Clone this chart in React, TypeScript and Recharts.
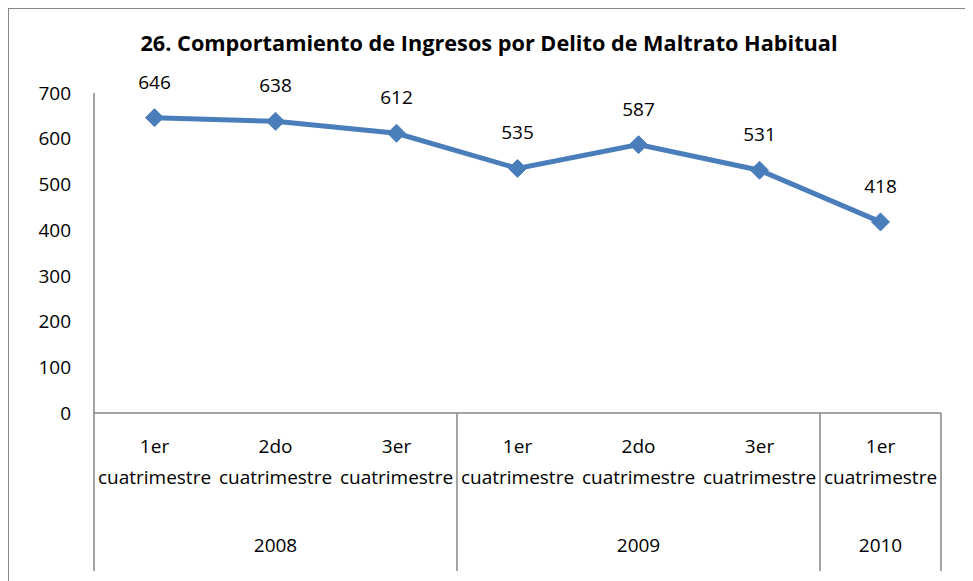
import { LineChart, Line, XAxis, YAxis, LabelList } from "recharts";

const categories = [
    "1er cuatrimestre",
    "2do cuatrimestre",
    "3er cuatrimestre",
    "1er cuatrimestre",
    "2do cuatrimestre",
    "3er cuatrimestre",
    "1er cuatrimestre",
];
const ingresos = [646, 638, 612, 535, 587, 531, 418];
const years = ["2008", "2009", "2010"];
const yearSpans = [3, 3, 1];
const yTicks = [0, 100, 200, 300, 400, 500, 600, 700];

const data = categories.map((c, i) => ({ name: c, key: `${i}`, value: ingresos[i] }));

const CHART_W = 956;
const CHART_H = 580;
const PLOT_LEFT = 85;
const PLOT_RIGHT = 932;
const BAND = (PLOT_RIGHT - PLOT_LEFT) / categories.length;
const FONT = "'Open Sans', sans-serif";
const LINE_COLOR = "#4A7EBB";
const AXIS_COLOR = "#868686";

// start index of each year group
const groupStarts: number[] = [];
yearSpans.reduce((acc, n) => {
    groupStarts.push(acc);
    return acc + n;
}, 0);

function CategoryTick(props: any) {
    const { x, y, payload } = props;
    const i = payload.index;
    const [first, second] = categories[i].split(" ");
    const g = groupStarts.indexOf(i);
    const bottom = 562;
    return (
        <g>
            <text x={x} y={y + 40} textAnchor="middle" fontSize={19} fontFamily={FONT} fill="#000">
                {first}
            </text>
            <text x={x} y={y + 71} textAnchor="middle" fontSize={19} fontFamily={FONT} fill="#000">
                {second}
            </text>
            {g >= 0 && (
                <>
                    <line x1={x - BAND / 2} x2={x - BAND / 2} y1={y} y2={bottom} stroke={AXIS_COLOR} strokeWidth={1.5} />
                    <text
                        x={x - BAND / 2 + (yearSpans[g] * BAND) / 2}
                        y={y + 139}
                        textAnchor="middle"
                        fontSize={19}
                        fontFamily={FONT}
                        fill="#000"
                    >
                        {years[g]}
                    </text>
                </>
            )}
            {i === categories.length - 1 && (
                <line x1={x + BAND / 2} x2={x + BAND / 2} y1={y} y2={bottom} stroke={AXIS_COLOR} strokeWidth={1.5} />
            )}
        </g>
    );
}

function Diamond(props: any) {
    const { cx, cy } = props;
    if (cx == null || cy == null) return null;
    const r = 9;
    return (
        <polygon
            points={`${cx},${cy - r} ${cx + r},${cy} ${cx},${cy + r} ${cx - r},${cy}`}
            fill={LINE_COLOR}
            stroke={LINE_COLOR}
        />
    );
}

export default function App() {
    return (
        <div
            style={{
                position: "relative",
                width: CHART_W,
                height: CHART_H,
                border: `1px solid ${AXIS_COLOR}`,
                background: "#fff",
            }}
        >
            <div
                style={{
                    position: "absolute",
                    top: 19,
                    left: 2,
                    width: CHART_W,
                    textAlign: "center",
                    fontFamily: FONT,
                    fontWeight: 700,
                    fontSize: 21.7,
                    color: "#000",
                }}
            >
                26. Comportamiento de Ingresos por Delito de Maltrato Habitual
            </div>
            <LineChart
                width={CHART_W}
                height={CHART_H}
                data={data}
                margin={{ top: 84, right: CHART_W - PLOT_RIGHT, left: 0, bottom: 0 }}
            >
                <XAxis
                    dataKey="key"
                    height={176}
                    interval={0}
                    padding={{ left: BAND / 2, right: BAND / 2 }}
                    axisLine={{ stroke: AXIS_COLOR, strokeWidth: 1.5 }}
                    tickLine={false}
                    tickSize={0}
                    tickMargin={0}
                    tick={<CategoryTick />}
                />
                <YAxis
                    width={PLOT_LEFT}
                    domain={[0, 700]}
                    ticks={yTicks}
                    interval={0}
                    axisLine={{ stroke: AXIS_COLOR, strokeWidth: 1.5 }}
                    tickLine={false}
                    tickSize={0}
                    tickMargin={23}
                    tick={{ fontSize: 19, fontFamily: FONT, fill: "#000" }}
                />
                <Line
                    dataKey="value"
                    stroke={LINE_COLOR}
                    strokeWidth={5}
                    dot={<Diamond />}
                    activeDot={false}
                    isAnimationActive={false}
                >
                    <LabelList
                        dataKey="value"
                        position="top"
                        offset={29}
                        fontSize={19}
                        fontFamily={FONT}
                        fill="#000"
                    />
                </Line>
            </LineChart>
        </div>
    );
}
